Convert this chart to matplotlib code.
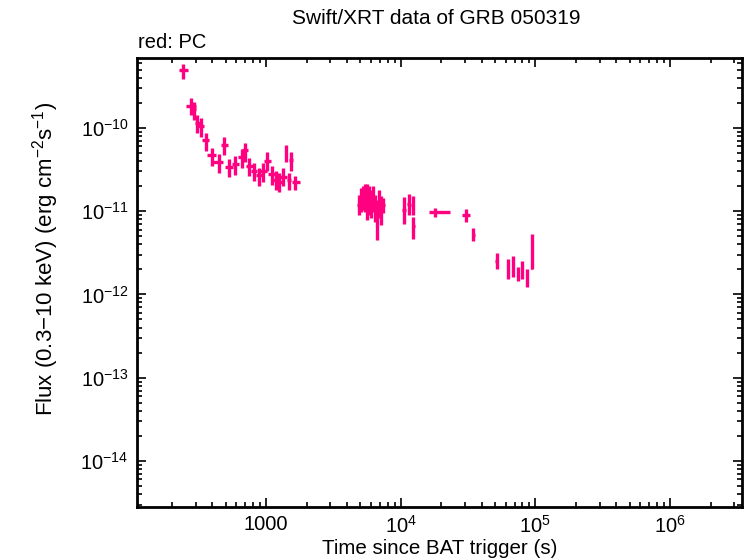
import numpy as np
import matplotlib
matplotlib.use("Agg")
import matplotlib.pyplot as plt
from matplotlib.ticker import LogLocator, FixedLocator, FixedFormatter, NullFormatter

plt.rcParams['font.family'] = ['Liberation Sans', 'DejaVu Sans']
plt.rcParams['mathtext.fontset'] = 'custom'
plt.rcParams['mathtext.rm'] = 'Liberation Sans'

# time since trigger (s): centre, lower and upper bound
t = [243, 276, 292, 309, 329, 357, 395, 448, 488, 534, 592, 660, 698, 752,
     814, 892, 955, 1022, 1102, 1180, 1255, 1344, 1407, 1533, 1490, 1650,
     4900, 5070, 5250, 5430, 5620, 5820, 6030, 6230, 6450, 6670, 6900, 7150, 7400,
     10600, 11500, 12300, 12400,
     18000, 30500, 34600,
     51600, 63000, 68500, 74700, 80000, 86100, 94000]
t_lo = [227, 255, 285, 297, 315, 335, 363, 406, 461, 496, 556, 622, 660, 710,
        769, 843, 903, 966, 1042, 1115, 1186, 1270, 1380, 1490, 1440, 1552,
        4730, 4900, 5070, 5250, 5430, 5620, 5820, 6020, 6230, 6440, 6670, 6900, 7150,
        10300, 11200, 12000, 12100,
        16200, 28600, 33800,
        50500, 61800, 67300, 73400, 78700, 84800, 93000]
t_hi = [265, 302, 300, 324, 349, 377, 425, 482, 520, 572, 634, 698, 739, 797,
        861, 944, 1010, 1081, 1166, 1248, 1328, 1422, 1435, 1580, 1540, 1788,
        5070, 5250, 5430, 5620, 5820, 6030, 6230, 6450, 6670, 6900, 7150, 7400, 7650,
        10900, 11800, 12600, 12700,
        23100, 32800, 35400,
        52700, 64200, 69700, 76000, 81300, 87400, 95000]

# flux (erg cm^-2 s^-1): centre, lower and upper bound
f = [4.97e-10, 1.84e-10, 1.69e-10, 1.14e-10, 1.04e-10, 7.2e-11, 4.75e-11, 3.9e-11,
     6.25e-11, 3.43e-11, 3.67e-11, 4.53e-11, 5.45e-11, 3.5e-11,
     3.0e-11, 2.73e-11, 3.0e-11, 4.0e-11, 2.78e-11, 2.37e-11, 2.27e-11, 2.6e-11,
     4.97e-11, 4.13e-11, 2.37e-11, 2.23e-11,
     1.19e-11, 1.37e-11, 1.45e-11, 1.53e-11, 1.49e-11, 1.37e-11, 1.26e-11, 1.45e-11,
     1.1e-11, 9.0e-12, 1.19e-11, 1.1e-11, 1.19e-11,
     1.04e-11, 1.22e-11, 1.19e-11, 6.7e-12,
     9.73e-12, 9.0e-12, 5.2e-12,
     2.53e-12, 2.01e-12, 2.16e-12, 1.83e-12, 1.97e-12, 1.64e-12, 2.07e-12]
f_lo = [3.87e-10, 1.43e-10, 1.25e-10, 8.6e-11, 7.86e-11, 5.3e-11, 3.5e-11, 2.86e-11,
        4.66e-11, 2.54e-11, 2.73e-11, 3.34e-11, 3.9e-11, 2.61e-11,
        2.31e-11, 1.98e-11, 2.23e-11, 3.0e-11, 2.07e-11, 1.8e-11, 1.69e-11, 1.98e-11,
        3.87e-11, 3.05e-11, 1.8e-11, 1.8e-11,
        9.0e-12, 9.8e-12, 1.04e-11, 9.8e-12, 7.9e-12, 9.0e-12, 8.3e-12, 9.8e-12,
        7.4e-12, 4.5e-12, 8.3e-12, 6.9e-12, 9.5e-12,
        7.0e-12, 8.9e-12, 9.0e-12, 4.6e-12,
        8.6e-12, 7.4e-12, 4.4e-12,
        2.01e-12, 1.54e-12, 1.63e-12, 1.43e-12, 1.53e-12, 1.22e-12, 2.0e-12]
f_hi = [5.82e-10, 2.27e-10, 2.07e-10, 1.43e-10, 1.31e-10, 8.8e-11, 5.8e-11, 4.8e-11,
        7.86e-11, 4.25e-11, 4.6e-11, 5.6e-11, 6.55e-11, 4.33e-11,
        3.77e-11, 3.34e-11, 3.77e-11, 5.1e-11, 3.5e-11, 3.05e-11, 2.86e-11, 3.28e-11,
        6.25e-11, 5.1e-11, 2.9e-11, 2.67e-11,
        1.57e-11, 1.9e-11, 2.01e-11, 2.13e-11, 2.13e-11, 2.01e-11, 1.8e-11, 2.01e-11,
        1.57e-11, 1.37e-11, 1.8e-11, 1.53e-11, 1.45e-11,
        1.46e-11, 1.6e-11, 1.5e-11, 8.6e-12,
        1.1e-11, 1.05e-11, 6.2e-12,
        3.13e-12, 2.67e-12, 2.86e-12, 2.16e-12, 2.55e-12, 2.01e-12, 5.35e-12]

xtick_vals = [1e3, 1e4, 1e5, 1e6]
xtick_labels = ['1000', r'$10^{4}$', r'$10^{5}$', r'$10^{6}$']
ytick_vals = [1e-14, 1e-13, 1e-12, 1e-11, 1e-10]
ytick_labels = [r'$10^{-14}$', r'$10^{-13}$', r'$10^{-12}$', r'$10^{-11}$', r'$10^{-10}$']

t = np.array(t); f = np.array(f)
xerr = [t - np.array(t_lo), np.array(t_hi) - t]
yerr = [f - np.array(f_lo), np.array(f_hi) - f]

fig = plt.figure(figsize=(7.46, 5.58), dpi=100)
ax = fig.add_axes([0.1836, 0.0914, 0.811, 0.8046])

ax.errorbar(t, f, xerr=xerr, yerr=yerr, fmt='none', ecolor='#ff0080',
            elinewidth=2.4, capsize=0)

ax.set_xscale('log')
ax.set_yscale('log')
ax.set_xlim(110, 3.42e6)
ax.set_ylim(2.8e-15, 6.9e-10)

ax.xaxis.set_major_locator(FixedLocator(xtick_vals))
ax.xaxis.set_major_formatter(FixedFormatter(xtick_labels))
ax.yaxis.set_major_locator(FixedLocator(ytick_vals))
ax.yaxis.set_major_formatter(FixedFormatter(ytick_labels))
ax.xaxis.set_minor_locator(LogLocator(base=10, subs=np.arange(2, 10), numticks=20))
ax.yaxis.set_minor_locator(LogLocator(base=10, subs=np.arange(2, 10), numticks=20))
ax.xaxis.set_minor_formatter(NullFormatter())
ax.yaxis.set_minor_formatter(NullFormatter())

ax.tick_params(which='both', direction='in', top=True, right=True, labelsize=14.5, color='black')
ax.tick_params(which='major', length=6.5, width=1.2, pad=6)
ax.tick_params(which='minor', length=3.5, width=1.2)
for s in ax.spines.values():
    s.set_linewidth(2)

ax.set_xlabel('Time since BAT trigger (s)', fontsize=14.75, labelpad=1)
ax.set_ylabel(r'Flux (0.3$-$10 keV) (erg cm$^{-2}$s$^{-1}$)', fontsize=16)
ax.yaxis.set_label_coords(-0.126, 0.552)
fig.text(0.585, 0.967, 'Swift/XRT data of GRB 050319', ha='center', va='center', fontsize=15)
fig.text(0.185, 0.924, 'red: PC', ha='left', va='center', fontsize=14.5)

fig.savefig('out.png', dpi=100)
